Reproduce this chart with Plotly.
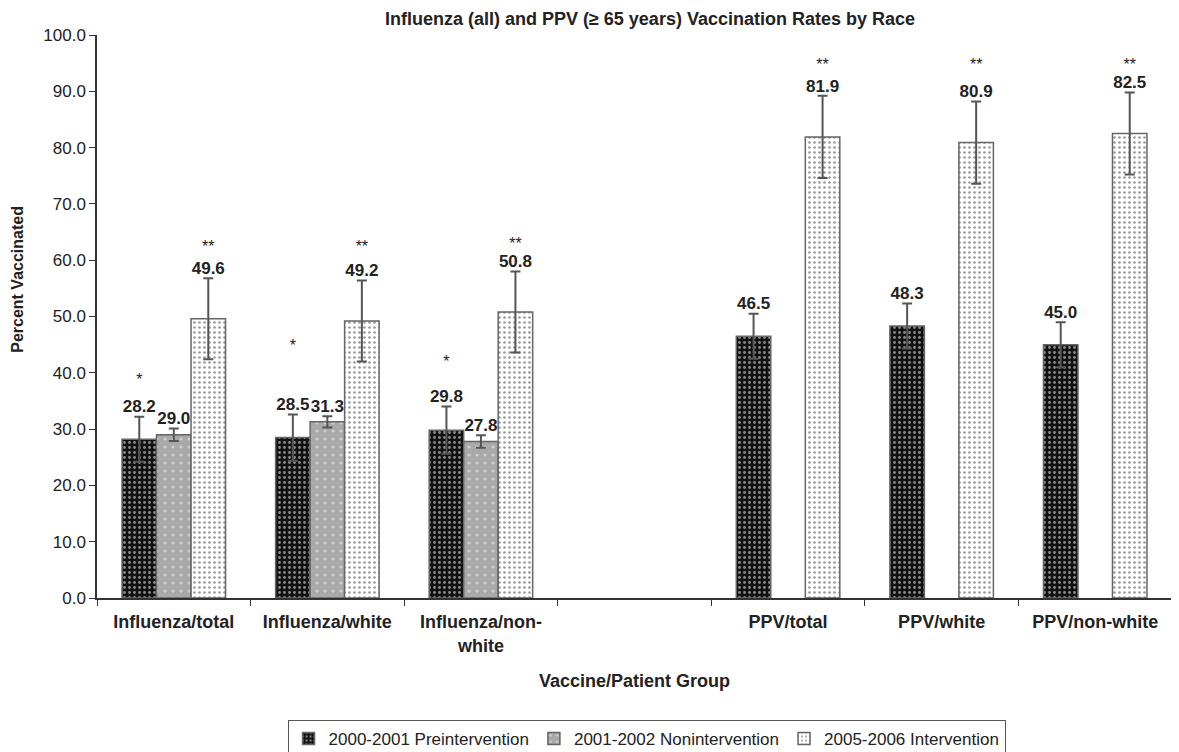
import plotly.graph_objects as go

categories = ["Influenza/total", "Influenza/white", "Influenza/non-<br>white", " ",
              "PPV/total", "PPV/white", "PPV/non-white"]
series_names = ["2000-2001 Preintervention", "2001-2002 Nonintervention", "2005-2006 Intervention"]

pre = [28.2, 28.5, 29.8, None, 46.5, 48.3, 45.0]
non = [29.0, 31.3, 27.8, None, None, None, None]
intv = [49.6, 49.2, 50.8, None, 81.9, 80.9, 82.5]

pre_err = [4.0, 4.1, 4.2, None, 4.0, 4.0, 4.0]
non_err = [1.1, 1.0, 1.1, None, None, None, None]
intv_err = [7.2, 7.2, 7.2, None, 7.3, 7.3, 7.3]

pre_star = ["*", "*", "*", "", "", "", ""]
pre_star_y = [38.5, 44.5, 41.8, None, None, None, None]
intv_star = ["**", "**", "**", "", "**", "**", "**"]
intv_star_y = [62.2, 62.2, 62.7, None, 94.5, 94.5, 94.5]

FONT = "Liberation Sans, Arial, Helvetica, sans-serif"

styles = [
    dict(bg="#111111", fg="#8a8a8a", size=5, solidity=0.25),
    dict(bg="#a9a9a9", fg="#d0d0d0", size=8, solidity=0.12),
    dict(bg="#ffffff", fg="#9a9a9a", size=5, solidity=0.22),
]

fig = go.Figure()
vals = [pre, non, intv]
errs = [pre_err, non_err, intv_err]
groups = ["g0", "g1", "g2"]
for name, v, e, st, g in zip(series_names, vals, errs, styles, groups):
    fig.add_trace(go.Bar(
        x=categories, y=v, name=name, offsetgroup=g,
        marker=dict(color=st["bg"], line=dict(color="#666666", width=1.5),
                    pattern=dict(shape=".", bgcolor=st["bg"], fgcolor=st["fg"],
                                 size=st["size"], solidity=st["solidity"], fillmode="replace")),
        error_y=dict(type="data", array=e, color="#555555", thickness=2, width=5),
    ))

# value labels above error bars
for v, e, g in zip(vals, errs, groups):
    ys = [None if a is None else a + b for a, b in zip(v, e)]
    txt = ["" if a is None else f"{a:.1f}" for a in v]
    fig.add_trace(go.Scatter(
        x=categories, y=ys, text=txt, mode="text", textposition="top center",
        offsetgroup=g, showlegend=False, hoverinfo="skip",
        textfont=dict(family=FONT, size=17, color="#222222", weight="bold"),
    ))

# significance stars
for ys, txt, g in [(pre_star_y, pre_star, "g0"), (intv_star_y, intv_star, "g2")]:
    fig.add_trace(go.Scatter(
        x=categories, y=ys, text=txt, mode="text", textposition="middle center",
        offsetgroup=g, showlegend=False, hoverinfo="skip",
        textfont=dict(family=FONT, size=16, color="#222222"),
    ))

fig.update_layout(
    width=1179, height=752,
    barmode="group", scattermode="group", bargap=0.326, bargroupgap=0,
    plot_bgcolor="white", paper_bgcolor="white",
    margin=dict(l=89, r=15, t=27, b=162, autoexpand=False),
    font=dict(family=FONT, size=17, color="#222222"),
    title=dict(text="<b>Influenza (all) and PPV (≥ 65 years) Vaccination Rates by Race</b>",
               x=0.5445, xanchor="center", xref="container",
               y=1 - 11 / 752, yanchor="middle", yref="container",
               font=dict(size=18, color="#222222")),
    legend=dict(orientation="h", x=0.5416, xanchor="center", xref="container",
                y=40 / 752, yanchor="top", yref="container",
                bordercolor="#555555", borderwidth=1, font=dict(size=17),
                traceorder="normal", itemwidth=30),
    showlegend=True,
)
fig.update_xaxes(
    type="category", categoryorder="array", categoryarray=categories,
    showline=True, linecolor="#333333", linewidth=1.5,
    ticks="outside", tickson="boundaries", ticklen=6, tickcolor="#333333",
    tickfont=dict(size=18, weight="bold"), showgrid=False, zeroline=False,
    ticklabelstandoff=7, automargin=False,
)
fig.update_yaxes(
    range=[0, 100], dtick=10, tickformat=".1f",
    showline=True, linecolor="#333333", linewidth=1.5,
    ticks="outside", ticklen=6, tickcolor="#333333",
    tickfont=dict(size=17), showgrid=False, zeroline=False, automargin=False,
)
fig.add_annotation(text="<b>Percent Vaccinated</b>", xref="paper", yref="paper",
                   x=-0.0735, y=0.567, textangle=-90, showarrow=False,
                   font=dict(size=16), xanchor="center", yanchor="middle")
fig.add_annotation(text="<b>Vaccine/Patient Group</b>", xref="paper", yref="paper",
                   x=0.5, y=-0.147, showarrow=False,
                   font=dict(size=18), xanchor="center", yanchor="middle")

fig.write_html("out.html")
